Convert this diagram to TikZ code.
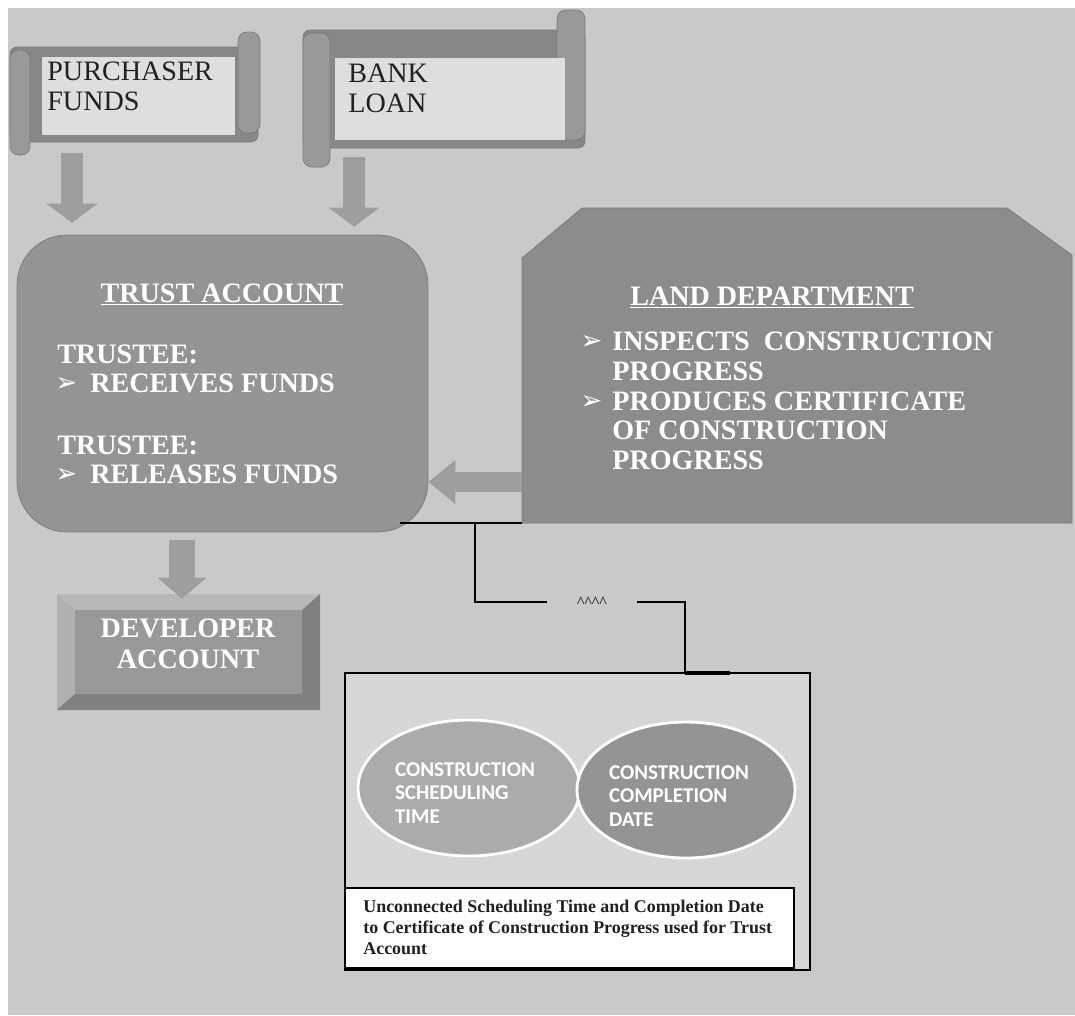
\documentclass[tikz,border=0pt]{standalone}
\usepackage{fontspec}
\setmainfont{Liberation Serif}
\newfontfamily\bulfont{DejaVu Sans}
\newfontfamily\calfont{Carlito}
\usetikzlibrary{arrows.meta,shapes.geometric}
\definecolor{bggray}{gray}{0.79}
\definecolor{trustgray}{gray}{0.58}
\definecolor{landgray}{gray}{0.55}
\definecolor{arrowgray}{gray}{0.62}
\definecolor{bandgray}{gray}{0.53}
\definecolor{rollgray}{gray}{0.60}
\definecolor{palegray}{gray}{0.87}
\definecolor{edgegray}{gray}{0.48}
\definecolor{inkgray}{gray}{0.13}
\definecolor{schedgray}{gray}{0.84}
\definecolor{ellgray}{gray}{0.67}
\definecolor{elldark}{gray}{0.58}
\definecolor{bevlight}{gray}{0.72}
\definecolor{bevside}{gray}{0.69}
\definecolor{bevdark}{gray}{0.50}
\definecolor{devgray}{gray}{0.60}
\newcommand{\bul}{{\bulfont\fontsize{15}{16}\selectfont ➢}}
\tikzset{
  blockarrow/.style={draw=arrowgray, line width=0.44cm, -{Triangle[width=1cm,length=0.38cm]}},
  wlabel/.style={text=white, inner sep=0pt, font=\fontsize{16}{17}\selectfont\bfseries},
  slabel/.style={text=inkgray, inner sep=0pt, font=\fontsize{16}{17}\selectfont},
  elabel/.style={text=white, inner sep=0pt, align=left, font=\calfont\fontsize{12}{13.6}\selectfont\bfseries},
  wire/.style={draw=black, line width=1.4pt},
}
\begin{document}
\begin{tikzpicture}[x=0.02cm, y=-0.02cm]
    \useasboundingbox (0,0) rectangle (1075,1015);
    \fill[white] (0,0) rectangle (1075,1015);
    \fill[bggray] (8,8) rectangle (1075,1015);
    % scrolls
    \filldraw[fill=bandgray, draw=edgegray, rounded corners=4pt] (10,47) rectangle (258,142);
    \filldraw[fill=rollgray, draw=edgegray, rounded corners=5pt] (10,50) rectangle (30,155);
    \filldraw[fill=rollgray, draw=edgegray, rounded corners=5pt] (238,32) rectangle (260,133);
    \node[fill=palegray, minimum width=3.86cm, minimum height=1.56cm, inner sep=0pt] (pf) at (138.5,96) {};
    \node[slabel, anchor=base west] (pf1) at (47,80) {PURCHASER};
    \node[slabel, anchor=base west] (pf2) at (47,110) {FUNDS};
    \filldraw[fill=bandgray, draw=edgegray, rounded corners=4pt] (303,30) rectangle (585,148);
    \filldraw[fill=rollgray, draw=edgegray, rounded corners=5pt] (303,33) rectangle (330,167);
    \filldraw[fill=rollgray, draw=edgegray, rounded corners=5pt] (557,10) rectangle (585,140);
    \node[fill=palegray, minimum width=4.6cm, minimum height=1.64cm, inner sep=0pt] (bl) at (450,99) {};
    \node[slabel, anchor=base west] (bl1) at (348,82) {BANK};
    \node[slabel, anchor=base west] (bl2) at (348,112) {LOAN};
    % trust account
    \node[draw=edgegray, fill=trustgray, rounded corners=1cm, minimum width=8.22cm, minimum height=5.94cm] (ta) at (222.5,383.5) {};
    \node[wlabel, anchor=base] (tat) at (222,302) {\underline{TRUST ACCOUNT}};
    \node[wlabel, anchor=base west] (ta1) at (57,363) {TRUSTEE:};
    \node[text=white, anchor=base west, inner sep=0pt] (tb1) at (55,391) {\bul};
    \node[wlabel, anchor=base west] (ta2) at (90,392) {RECEIVES FUNDS};
    \node[wlabel, anchor=base west] (ta3) at (57,454) {TRUSTEE:};
    \node[text=white, anchor=base west, inner sep=0pt] (tb2) at (55,482) {\bul};
    \node[wlabel, anchor=base west] (ta4) at (90,483) {RELEASES FUNDS};
    % land department
    \filldraw[fill=landgray, draw=edgegray] (522,523) -- (522,258) -- (582,208) -- (1007,208) -- (1072,255) -- (1072,523) -- cycle;
    \coordinate (ldsw) at (522,523);
    \coordinate (ldw) at (522,482);
    \node[wlabel, anchor=base] (ldt) at (772,305) {\underline{LAND DEPARTMENT}};
    \node[text=white, anchor=base west, inner sep=0pt] (lb1) at (580,349) {\bul};
    \node[wlabel, anchor=base west] (ld1) at (612,350) {INSPECTS\ \ CONSTRUCTION};
    \node[wlabel, anchor=base west] (ld2) at (612,380) {PROGRESS};
    \node[text=white, anchor=base west, inner sep=0pt] (lb2) at (580,409) {\bul};
    \node[wlabel, anchor=base west] (ld3) at (612,410) {PRODUCES CERTIFICATE};
    \node[wlabel, anchor=base west] (ld4) at (612,439) {OF CONSTRUCTION};
    \node[wlabel, anchor=base west] (ld5) at (612,469) {PROGRESS};
    % developer account
    \fill[bevlight] (57,594) -- (320,594) -- (302,610) -- (75,610) -- cycle;
    \fill[bevside] (57,594) -- (75,610) -- (75,694) -- (57,710) -- cycle;
    \fill[bevdark] (320,594) -- (320,710) -- (302,694) -- (302,610) -- cycle;
    \fill[bevdark] (57,710) -- (320,710) -- (302,694) -- (75,694) -- cycle;
    \node[fill=devgray, minimum width=4.54cm, minimum height=1.68cm, inner sep=0pt] (da) at (188.5,652) {};
    \node[wlabel, align=center, font=\fontsize{16}{18}\selectfont\bfseries] (dat) at (188,644) {DEVELOPER\\ACCOUNT};
    % block arrows
    \coordinate (pfout) at (72,153);
    \coordinate (blout) at (354,157);
    \coordinate (taout) at (182,540);
    \draw[blockarrow, shorten >=0.24cm] (pfout) -- (pfout |- ta.north);
    \draw[blockarrow, shorten >=0.16cm] (blout) -- (blout |- ta.north);
    \draw[blockarrow, line width=0.4cm, -{Triangle[width=0.84cm,length=0.54cm]}] (ldw) -- (ldw -| ta.east);
    \draw[blockarrow, line width=0.52cm, -{Triangle[width=0.96cm,length=0.42cm]}, shorten >=0.22cm] (taout) -- (taout |- da.north);
    % schedule box
    \node[draw=black, fill=schedgray, line width=0.8pt, minimum width=9.3cm, minimum height=5.94cm, inner sep=0pt] (bx) at (577.5,821.5) {};
    \node[ellipse, draw=white, line width=1.6pt, fill=ellgray, minimum width=4.44cm, minimum height=2.72cm] (st) at (469,788) {};
    \node[ellipse, draw=white, line width=1.6pt, fill=elldark, minimum width=4.36cm, minimum height=2.72cm] (cd) at (686,790) {};
    \node[elabel] (stt) at (465,793) {CONSTRUCTION\\SCHEDULING\\TIME};
    \node[elabel] (cdt) at (679,796) {CONSTRUCTION\\COMPLETION\\DATE};
    \node[draw=black, fill=white, line width=0.8pt, minimum width=8.98cm, minimum height=1.6cm, inner sep=0pt] (nt) at (569.5,928) {};
    \node[anchor=north west, align=left, inner sep=0pt, text=inkgray, font=\fontsize{10.2}{11.9}\selectfont\bfseries] (ntt) at (363,900)
        {Unconnected Scheduling Time and Completion Date\\to Certificate of Construction Progress used for Trust\\Account};
    % connector
    \coordinate (tacorner) at (400,523);
    \coordinate (split) at (475,523);
    \coordinate (bxtap) at (685,673);
    \coordinate (bxend) at (730,673);
    \node[minimum width=1.8cm, inner sep=0pt, font=\fontsize{9}{10}\selectfont] (gap) at (592,602) {\textasciicircum\textasciicircum\textasciicircum\textasciicircum};
    \draw[wire] (tacorner) -- (ldsw);
    \draw[wire] (split) |- (gap.west);
    \draw[wire] (gap.east) -| (bxtap);
    \draw[wire, line width=2.2pt] (bxtap) -- (bxend);
\end{tikzpicture}
\end{document}
